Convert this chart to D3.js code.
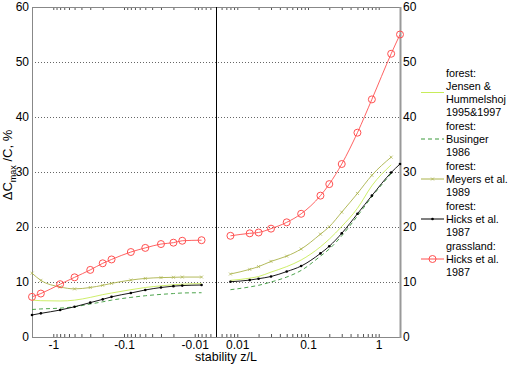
<!DOCTYPE html>
<html>
<head>
<meta charset="utf-8">
<script src="https://cdn.jsdelivr.net/npm/d3@7"></script>
<style>
  body { margin: 0; background: #fff; }
  svg { display: block; font-family: Arial, "Liberation Sans", sans-serif; }
</style>
</head>
<body>
<div id="chart"></div>
<script>
// stability points (unstable on the left, stable on the right)
var zLeft  = [-2, -1.5, -0.8, -0.5, -0.3, -0.2, -0.15, -0.08, -0.05, -0.03, -0.02, -0.015, -0.008];
var zRight = [0.008, 0.015, 0.02, 0.03, 0.05, 0.08, 0.15, 0.2, 0.3, 0.5, 0.8, 1.5, 2];

var jensenLeft    = [6.7, 6.6, 6.55, 6.7, 7.2, 7.7, 8.0, 8.6, 9.0, 9.3, 9.5, 9.6, 9.7];
var jensenRight   = [10.3, 10.7, 11.0, 11.8, 12.8, 14.0, 16.4, 17.8, 20.1, 23.4, 27.5, 31.3];
var busingerLeft  = [5.0, 5.1, 5.25, 5.5, 6.0, 6.4, 6.7, 7.2, 7.5, 7.75, 7.9, 8.0, 8.05];
var busingerRight = [8.6, 9.1, 9.4, 10.0, 10.9, 12.1, 14.7, 16.0, 18.4, 22.0, 25.5, 29.7];
var meyersLeft    = [11.6, 10.3, 9.1, 8.75, 9.0, 9.4, 9.75, 10.35, 10.65, 10.8, 10.85, 10.9, 10.9];
var meyersRight   = [11.45, 12.3, 12.8, 13.75, 14.7, 16.0, 18.7, 20.05, 22.7, 26.1, 29.4, 32.7];
var hicksLeft     = [4.0, 4.3, 4.9, 5.5, 6.25, 6.85, 7.3, 8.0, 8.55, 9.0, 9.25, 9.35, 9.45];
var hicksRight    = [10.05, 10.35, 10.6, 11.0, 11.9, 12.9, 15.2, 16.5, 18.85, 22.4, 25.7, 29.9, 31.45];
var grassLeft     = [7.3, 7.9, 9.6, 10.85, 12.2, 13.4, 14.1, 15.45, 16.2, 16.9, 17.15, 17.5, 17.6];
var grassRight    = [18.4, 18.85, 19.0, 19.7, 20.85, 22.4, 25.7, 27.8, 31.45, 37.15, 43.2, 51.5, 55.0];

var yTicks = [0, 10, 20, 30, 40, 50, 60];
var xLabelsLeft = [-1, -0.1, -0.01];
var xLabelsRight = [0.01, 0.1, 1];

var legendLabels = [
  ["forest:", "Jensen &", "Hummelshoj", "1995&1997"],
  ["forest:", "Businger", "1986"],
  ["forest:", "Meyers et al.", "1989"],
  ["forest:", "Hicks et al.", "1987"],
  ["grassland:", "Hicks et al.", "1987"]
];

var series = [
  {left: jensenLeft, right: jensenRight, color: "#c8ec5a", dash: null, marker: null},
  {left: busingerLeft, right: busingerRight, color: "#3a9a3a", dash: "4,3", marker: null},
  {left: meyersLeft, right: meyersRight, color: "#aab24a", dash: null, marker: "x"},
  {left: hicksLeft, right: hicksRight, color: "#000000", dash: null, marker: "dot"},
  {left: grassLeft, right: grassRight, color: "#ff5050", dash: null, marker: "circle"}
];

var width = 509, height = 366;
var x0 = 32, xm = 216, x1 = 400, yTop = 7, yBot = 337;

var svg = d3.select("#chart").append("svg")
    .attr("width", width)
    .attr("height", height);

var xl = d3.scaleLog().domain([-2, -0.005]).range([x0, xm]);
var xr = d3.scaleLog().domain([0.005, 2]).range([xm, x1]);
var y = d3.scaleLinear().domain([0, 60]).range([yBot, yTop]);

// dotted grid
svg.append("g").selectAll("line")
    .data(yTicks.filter(function(d){ return d > 0 && d < 60; }))
  .enter().append("line")
    .attr("x1", x0).attr("x2", x1)
    .attr("y1", function(d){ return y(d) + 0.5; })
    .attr("y2", function(d){ return y(d) + 0.5; })
    .attr("stroke", "#666")
    .attr("stroke-dasharray", "1,2");

function styleAxis(g, color){
  g.select(".domain").remove();
  g.selectAll(".tick line").attr("stroke", color);
  g.selectAll(".tick text").attr("font-size", 12).attr("fill", "#000");
}

// bottom / top minor+major ticks
[[xl, xLabelsLeft], [xr, xLabelsRight]].forEach(function(p){
  var sc = p[0];
  svg.append("g")
      .attr("transform", "translate(0," + yBot + ")")
      .call(d3.axisBottom(sc).tickValues(sc.ticks()).tickSize(-3).tickFormat(""))
      .call(styleAxis, "#555");
  svg.append("g")
      .attr("transform", "translate(0," + yTop + ")")
      .call(d3.axisTop(sc).tickValues(sc.ticks()).tickSize(-3).tickFormat(""))
      .call(styleAxis, "#555");
  svg.append("g")
      .attr("transform", "translate(0," + yBot + ")")
      .call(d3.axisBottom(sc).tickValues(p[1]).tickSize(0).tickPadding(3)
        .tickFormat(function(d){ return String(d); }))
      .call(styleAxis, "#555");
});

// y axes
svg.append("g")
    .attr("transform", "translate(" + x0 + ",0)")
    .call(d3.axisLeft(y).tickValues(yTicks).tickSize(0).tickPadding(3))
    .call(styleAxis, "#555");
svg.append("g")
    .attr("transform", "translate(" + x1 + ",0)")
    .call(d3.axisRight(y).tickValues(yTicks).tickSize(0).tickPadding(3))
    .call(styleAxis, "#555");

// frame
svg.append("rect")
    .attr("x", x0 + 0.5).attr("y", yTop + 0.5)
    .attr("width", x1 - x0).attr("height", yBot - yTop)
    .attr("fill", "none").attr("stroke", "#888").attr("stroke-width", 1);
svg.append("line")
    .attr("x1", x1 + 0.5).attr("x2", x1 + 0.5).attr("y1", yTop).attr("y2", yBot + 1)
    .attr("stroke", "#999").attr("stroke-width", 2);
svg.append("line")
    .attr("x1", xm + 0.5).attr("x2", xm + 0.5).attr("y1", yTop).attr("y2", yBot)
    .attr("stroke", "#000");

function drawMarkers(g, pts, s){
  if (s.marker === "circle") {
    g.selectAll("circle.m").data(pts).enter().append("circle")
      .attr("cx", function(d){ return d[0]; }).attr("cy", function(d){ return d[1]; })
      .attr("r", 3.5).attr("fill", "none").attr("stroke", s.color);
  } else if (s.marker === "dot") {
    g.selectAll("circle.m").data(pts).enter().append("circle")
      .attr("cx", function(d){ return d[0]; }).attr("cy", function(d){ return d[1]; })
      .attr("r", 1.3).attr("fill", s.color);
  } else if (s.marker === "x") {
    g.selectAll("path.m").data(pts).enter().append("path")
      .attr("d", function(d){
        var a = 1.5;
        return "M" + (d[0]-a) + "," + (d[1]-a) + "L" + (d[0]+a) + "," + (d[1]+a) +
               "M" + (d[0]-a) + "," + (d[1]+a) + "L" + (d[0]+a) + "," + (d[1]-a);
      })
      .attr("stroke", s.color).attr("stroke-width", 0.7);
  }
}

var line = d3.line().curve(d3.curveMonotoneX);

series.forEach(function(s){
  var g = svg.append("g");
  var ptsL = s.left.map(function(v, i){ return [xl(zLeft[i]), y(v)]; });
  var ptsR = s.right.map(function(v, i){ return [xr(zRight[i]), y(v)]; });
  [ptsL, ptsR].forEach(function(pts){
    g.append("path")
      .attr("d", line(pts))
      .attr("fill", "none")
      .attr("stroke", s.color)
      .attr("stroke-width", 0.9)
      .attr("stroke-dasharray", s.dash);
    drawMarkers(g, pts, s);
  });
});

// axis titles
var yl = svg.append("text")
    .attr("transform", "translate(12," + 165 + ") rotate(-90)")
    .attr("text-anchor", "middle")
    .attr("font-size", 13);
yl.append("tspan").text("\u0394C");
yl.append("tspan").attr("font-size", 9).attr("dy", 4).text("max");
yl.append("tspan").attr("dy", -4).text(" /C, %");

svg.append("text")
    .attr("x", 226).attr("y", 361)
    .attr("text-anchor", "middle")
    .attr("font-size", 12.5)
    .text("stability z/L");

// legend
var lineH = 13, ly = 73;
legendLabels.forEach(function(lines, k){
  var s = series[k];
  var mid = ly + lineH * (lines.length - 1) / 2;
  var g = svg.append("g");
  lines.forEach(function(t, j){
    g.append("text")
      .attr("x", 446).attr("y", ly + j * lineH)
      .attr("dy", "0.35em")
      .attr("font-size", 10.8)
      .text(t);
  });
  g.append("path")
    .attr("d", "M421," + mid + "L444," + mid)
    .attr("stroke", s.color)
    .attr("stroke-dasharray", s.dash)
    .attr("fill", "none");
  drawMarkers(g, [[432.5, mid]], s);
  ly += lines.length * lineH + 1;
});
</script>
</body>
</html>
